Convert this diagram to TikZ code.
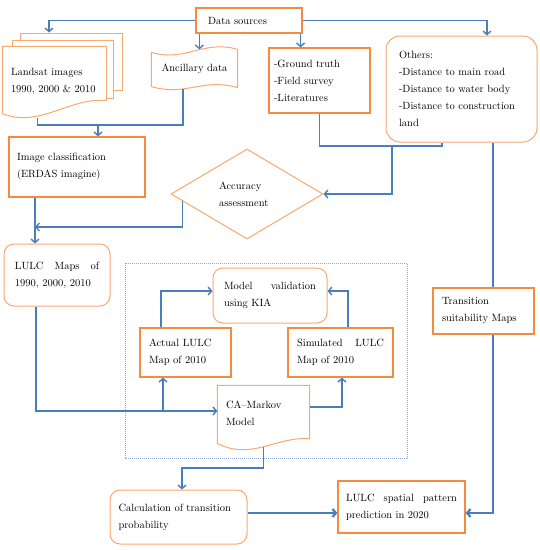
\documentclass[tikz,border=0pt]{standalone}
\usepackage{tikz}
\definecolor{flowblue}{HTML}{4A7EBB}
\definecolor{boxorange}{HTML}{F58B3F}
\definecolor{softorange}{HTML}{F9A86E}
\definecolor{dotblue}{HTML}{8EAADB}
\usetikzlibrary{arrows.meta, calc, shapes.geometric, backgrounds}
\newcommand{\spread}[1]{\makebox[\hsize][s]{\spaceskip=0pt\xspaceskip=0pt #1}}
\tikzset{
	rbox/.style={draw=boxorange, line width=1.2pt, fill=white, align=left,
		inner xsep=0pt, inner ysep=0pt, font=\fontsize{10.5}{17}\selectfont},
	rrbox/.style={rbox, draw=softorange, line width=1pt, rounded corners=10pt},
	tbox/.style={rbox, draw=none, fill=none},
	sheet/.style={draw=softorange, line width=1pt, fill=white},
	marr/.style={-{Straight Barb[length=3.5pt,width=8pt]}, line width=1.4pt, draw=flowblue},
	mline/.style={line width=1.4pt, draw=flowblue},
	barr/.style={marr, line width=2.2pt}
}

\begin{document}
\begin{tikzpicture}[x=1pt, y=-1pt]
	\useasboundingbox (0,0) rectangle (540,550);

	% sources
	\node[rbox, minimum width=106, minimum height=25, text width=82pt] (src) at (249,20.5) {Data sources};
	\node[tbox, minimum width=103, minimum height=69, text width=87pt] (land) at (54.5,81.5) {Landsat images\\1990, 2000 \& 2010};
	\node[tbox, align=center, minimum width=85, minimum height=38, text width=85pt] (anc) at (194.5,69) {Ancillary data};
	\node[rbox, minimum width=101, minimum height=65, text width=91pt] (gt) at (319.5,80.5) {-Ground truth\\-Field survey\\-Literatures};
	\node[rrbox, rounded corners=14pt, minimum width=151, minimum height=106, text width=125pt] (oth) at (461.5,89)
		{Others:\\-Distance to main road\\-Distance to water body\\-Distance to construction\\land};

	\begin{scope}[on background layer]
		\draw[dotblue, line width=0.7pt, dash pattern=on 1pt off 1pt] (125,263) rectangle (407,458);
		\node[sheet, minimum width=102, minimum height=57, inner sep=0pt] (land3) at (71,61.5) {};
		\node[sheet, minimum width=101, minimum height=58, inner sep=0pt] (land2) at (62.5,69) {};
		\draw[sheet] ([yshift=3pt]land.south west) -- (land.north west) -- (land.north east)
			-- ([yshift=16pt]land.south east) .. controls +(-36,-4) and +(37,15) .. ([yshift=3pt]land.south west) -- cycle;
	\end{scope}
	\draw[sheet, fill=none] ([yshift=-3pt]anc.north west) .. controls +(34,10) and +(-34,-10) .. (anc.north east)
		-- ([yshift=1pt]anc.south east) .. controls +(-34,-10) and +(34,10) .. ([yshift=2pt]anc.south west) -- cycle;

	% classification
	\node[rbox, minimum width=136, minimum height=60, text width=120pt] (cls) at (77,167) {Image classification\\(ERDAS imagine)};
	\node[diamond, draw=softorange, line width=1pt, fill=white, minimum width=152pt, minimum height=90pt,
		aspect=1.69, inner sep=0pt, text width=56pt, align=left, font=\fontsize{10.5}{17}\selectfont] (acc) at (247,194)
		{Accuracy\\assessment};
	\node[rrbox, minimum width=106, minimum height=62, text width=84pt] (maps) at (57,275) {\spread{LULC Maps of}\\1990, 2000, 2010};

	% model
	\node[rrbox, minimum width=114, minimum height=55, text width=92pt] (val) at (270,295.5) {\spread{Model validation}\\using KIA};
	\node[rbox, minimum width=91, minimum height=49, text width=73pt] (act) at (185.5,352.5) {Actual LULC\\Map of 2010};
	\node[rbox, minimum width=105, minimum height=49, text width=87pt] (sim) at (340.5,352.5) {\spread{Simulated LULC}\\Map of 2010};
	\node[tbox, minimum width=91, minimum height=55, text width=75pt] (ca) at (263.5,413.5) {CA--Markov\\Model};
	\draw[sheet, fill=none] ([yshift=-2pt]ca.south west) -- (ca.north west) -- (ca.north east)
		-- ([yshift=3pt]ca.south east) .. controls +(-35,-2) and +(35,17) .. ([yshift=-2pt]ca.south west) -- cycle;
	\node[rbox, minimum width=101, minimum height=46, text width=83pt] (trans) at (483.5,311) {Transition\\suitability Maps};

	% prediction
	\node[rrbox, minimum width=137, minimum height=54, text width=120pt] (calc) at (178.5,517) {Calculation of transition\\probability};
	\node[rbox, minimum width=127, minimum height=52, text width=111pt] (pred) at (401.5,507) {\spread{LULC spatial pattern}\\prediction in 2020};

	% connectors
	\draw[marr] (src.west) -| ([xshift=-22pt]land3.north);
	\draw[marr] ([xshift=4pt]src.south west) -- ([xshift=4pt]src.south west |- anc.north);
	\draw[marr] ([xshift=-2pt]src.south east) -- ([xshift=-2pt]src.south east |- gt.north);
	\draw[marr] (src.east) -| ([xshift=25.5pt]oth.north);

	\coordinate (j1) at (98,125);
	\draw[mline] ([xshift=35pt,yshift=-1pt]land.south west) |- (j1) -| ([xshift=-11.5pt]anc.south);
	\draw[marr] (j1) -- (j1 |- cls.north);

	\coordinate (j2) at (392,146);
	\draw[mline] (gt.south) |- (j2) -| ([xshift=-19.5pt]oth.south);
	\draw[marr] (j2) |- (acc.east);

	\draw[marr] ([xshift=-42pt]cls.south) -- ([xshift=-42pt]cls.south |- maps.north);
	\coordinate (j3) at (35,227);
	\draw[marr] ($(acc.west)!0.16!(acc.south)$) |- (j3);

	\coordinate (j4) at (163,411);
	\draw[mline] ([xshift=-21pt]maps.south) |- (j4);
	\draw[marr] (j4) -- (j4 -| ca.west);
	\draw[marr] (j4) -- (j4 |- act.south);
	\draw[marr] ([xshift=-24.5pt]act.north) |- ([yshift=4.5pt]val.west);
	\draw[marr] ([xshift=7.5pt]sim.north) |- ([yshift=4.5pt]val.east);
	\draw[marr] ([yshift=6.5pt]ca.east) -| ([xshift=1.5pt]sim.south);

	\coordinate (j5) at (182,468);
	\draw[marr] ([yshift=-5pt]ca.south) |- (j5) -- (j5 |- calc.north);
	\draw[barr] ([yshift=4pt]calc.east) -- ([yshift=4pt]calc.east -| pred.west);
	\draw[mline] ([xshift=31.5pt]oth.south) -- ([xshift=9.5pt]trans.north);
	\draw[barr] ([xshift=9.5pt]trans.south) |- ([yshift=-6pt]pred.east);
\end{tikzpicture}
\end{document}
